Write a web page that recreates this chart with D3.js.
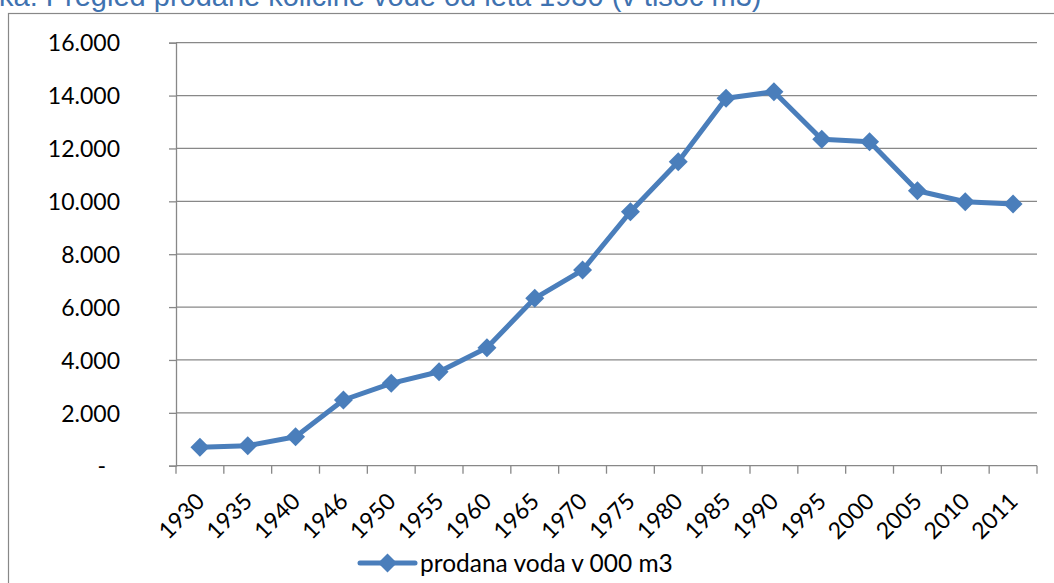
<!DOCTYPE html>
<html lang="sl">
<head>
    <meta charset="UTF-8">
    <title>Prodana voda</title>
    <script src="https://d3js.org/d3.v7.min.js"></script>
    <style>
        body { margin: 0; background: #fff; }
        svg { display: block; }
        .tick_text { font-family: Lato, sans-serif; font-size: 23px; fill: #000; }
        .legend_text { font-family: Lato, sans-serif; font-size: 24.5px; fill: #000; }
        .title { font-family: "Liberation Sans", Arial, sans-serif; font-size: 29px; fill: #3f72b0; }
    </style>
</head>
<body>
<svg width="1054" height="583"></svg>

<script>
    // data
    const years = ["1930", "1935", "1940", "1946", "1950", "1955", "1960", "1965", "1970",
        "1975", "1980", "1985", "1990", "1995", "2000", "2005", "2010", "2011"];
    const sold = [695, 757, 1097, 2485, 3116, 3555, 4463, 6330, 7400,
        9607, 11498, 13896, 14145, 12345, 12254, 10400, 9985, 9898];
    const yTicks = [0, 2000, 4000, 6000, 8000, 10000, 12000, 14000, 16000];
    const seriesName = "prodana voda v 000 m3";
    const titleText = "ka: Pregled prodane količine vode od leta 1930 (v tisoč m3)";

    const svg = d3.select("svg");
    const blue = "#4a7ebb";
    const grey = "#888888";

    const x = d3.scaleBand().domain(years).range([176, 1037]);
    const y = d3.scaleLinear().domain([0, 16000]).range([465.7, 42.7]);

    const fmt = d3.formatLocale({decimal: ",", thousands: ".", grouping: [3], currency: ["", ""]}).format(",d");

    // outer chart frame (runs off the picture right and bottom)
    svg.append("rect")
        .attr("x", 8.5).attr("y", 13.5)
        .attr("width", 1100).attr("height", 650)
        .attr("fill", "none").attr("stroke", grey).attr("stroke-width", 1.2);

    // title, cut off at the top like in the source
    svg.append("text").attr("class", "title")
        .attr("x", -1).attr("y", 6)
        .text(titleText);

    // gridlines
    svg.append("g")
        .selectAll("line")
        .data(yTicks.slice(1))
        .enter()
        .append("line")
        .attr("x1", 176).attr("x2", 1037)
        .attr("y1", d => y(d)).attr("y2", d => y(d))
        .attr("stroke", grey).attr("stroke-width", 1.3);

    // y axis
    const yAxis = svg.append("g")
        .attr("transform", "translate(176,0)")
        .call(d3.axisLeft(y).tickValues(yTicks).tickSize(7).tickPadding(49)
            .tickFormat(d => d === 0 ? "-" : fmt(d)));
    yAxis.select(".domain").attr("stroke", grey).attr("stroke-width", 1.3);
    yAxis.selectAll(".tick line").attr("stroke", grey).attr("stroke-width", 1.3);
    yAxis.selectAll(".tick text").attr("class", "tick_text").attr("dy", "0.36em")
        .attr("dx", d => d === 0 ? -14 : 0);

    // x axis line and ticks at category borders
    const xg = svg.append("g");
    xg.append("line")
        .attr("x1", 176).attr("x2", 1037)
        .attr("y1", y(0)).attr("y2", y(0))
        .attr("stroke", grey).attr("stroke-width", 1.3);
    xg.selectAll(".xt")
        .data(years.concat(["end"]))
        .enter()
        .append("line")
        .attr("class", "xt")
        .attr("x1", d => d === "end" ? 1037 : x(d))
        .attr("x2", d => d === "end" ? 1037 : x(d))
        .attr("y1", y(0)).attr("y2", y(0) + 8)
        .attr("stroke", grey).attr("stroke-width", 1.3);
    xg.selectAll(".xl")
        .data(years)
        .enter()
        .append("text")
        .attr("class", "tick_text")
        .attr("text-anchor", "end")
        .attr("transform", d => "translate(" + (x(d) + x.bandwidth() / 2 + 6) + "," + (y(0) + 37) + ") rotate(-45)")
        .text(d => d);

    // series line
    const line = d3.line()
        .x((d, i) => x(years[i]) + x.bandwidth() / 2)
        .y(d => y(d));
    svg.append("path")
        .datum(sold)
        .attr("d", line)
        .attr("fill", "none")
        .attr("stroke", blue)
        .attr("stroke-width", 5)
        .attr("stroke-linejoin", "round");

    const diamond = d3.symbol().type(d3.symbolDiamond2).size(230);
    svg.append("g")
        .selectAll("path")
        .data(sold)
        .enter()
        .append("path")
        .attr("d", diamond)
        .attr("transform", (d, i) => "translate(" + (x(years[i]) + x.bandwidth() / 2) + "," + y(d) + ")")
        .attr("fill", blue);

    // legend
    const lg = svg.append("g").attr("transform", "translate(360,563)");
    lg.append("line").attr("x1", 0).attr("x2", 55)
        .attr("stroke", blue).attr("stroke-width", 5).attr("stroke-linecap", "round");
    lg.append("path").attr("d", diamond).attr("transform", "translate(27.5,0)").attr("fill", blue);
    lg.append("text").attr("class", "legend_text")
        .attr("x", 60).attr("y", 8.5)
        .text(seriesName);
</script>
</body>
</html>
